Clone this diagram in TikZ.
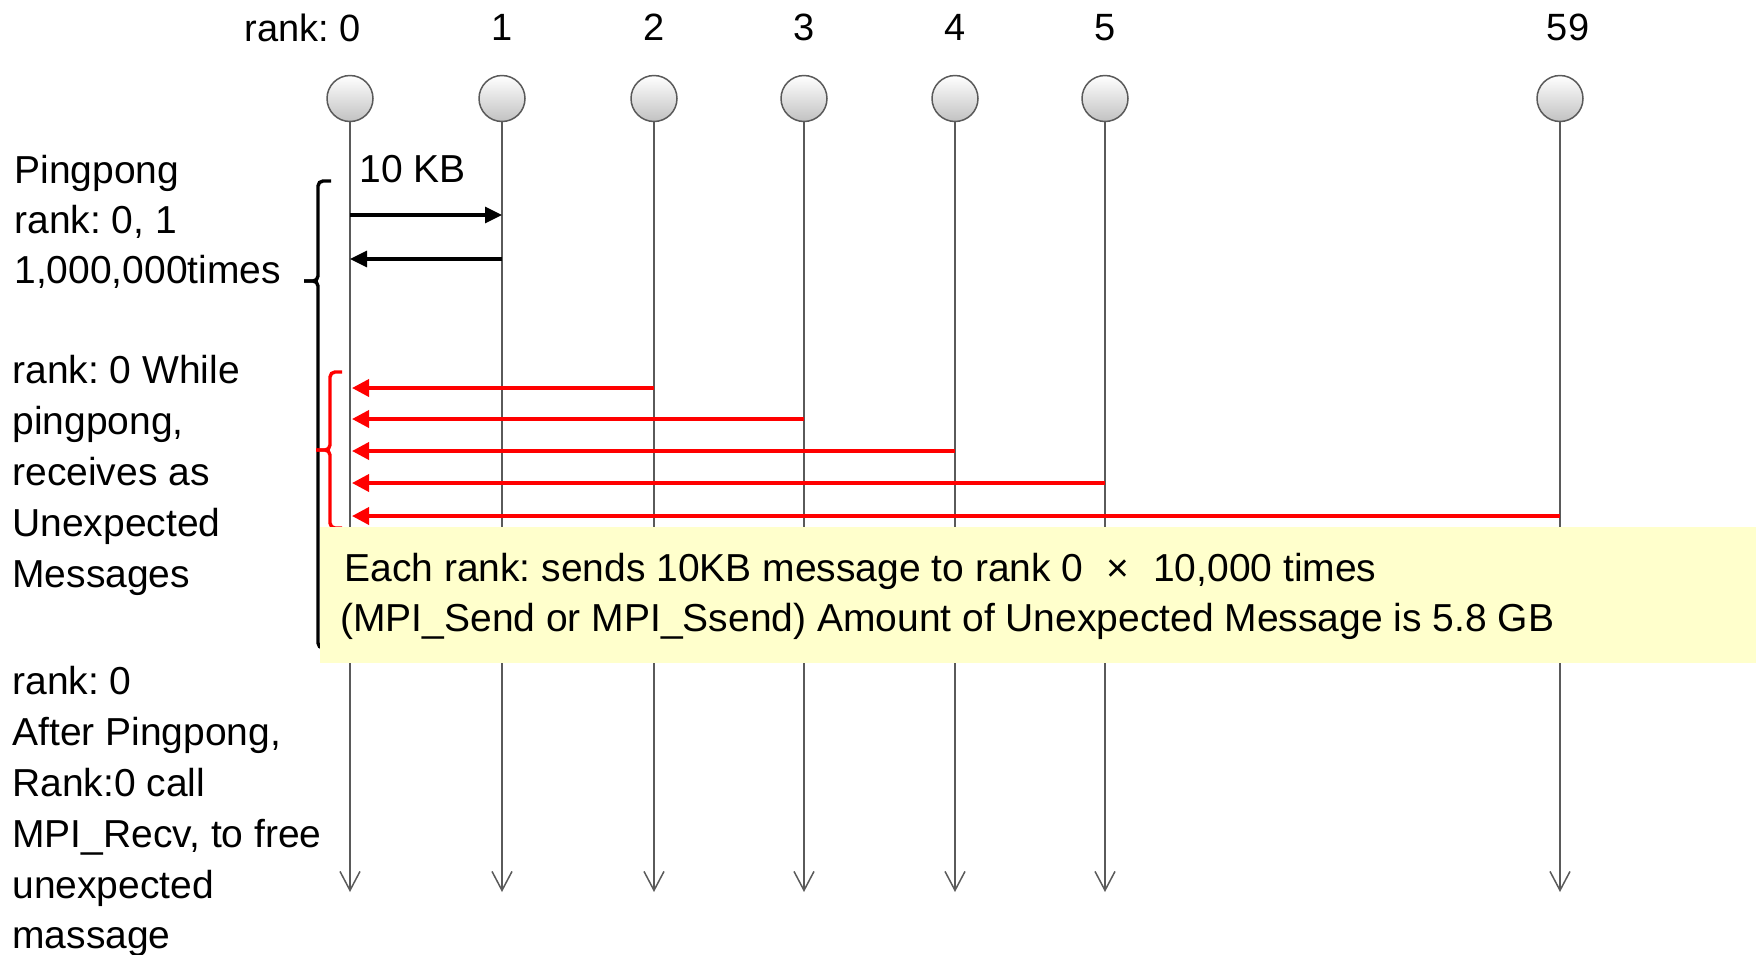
\documentclass[tikz,border=0pt]{standalone}
\usepackage{fontspec}
\setmainfont{Liberation Sans}
\usetikzlibrary{arrows.meta}
\definecolor{boxyellow}{HTML}{FFFFCC}
\definecolor{lifegray}{HTML}{5A5A5A}
\frenchspacing
\begin{document}
\begin{tikzpicture}[x=0.5pt,y=-0.5pt,
  proc/.style={circle, draw=lifegray, line width=0.75pt, minimum size=23pt,
    inner sep=0pt, top color=white, bottom color=black!24},
  lifeline/.style={draw=lifegray, line width=0.75pt,
    -{Straight Barb[length=9.5pt,width=10pt]}},
  ranklbl/.style={font=\fontsize{19}{22}\selectfont, anchor=base, inner sep=0pt},
  txt/.style={font=\fontsize{19.5}{25}\selectfont, anchor=base west, inner sep=0pt},
  msg/.style={line width=1.6pt, -{Triangle[length=8.5pt,width=8pt]}},
  umsg/.style={line width=1.8pt, draw=red, -{Triangle[length=8.5pt,width=8.5pt]}},
  bracket/.style={line width=1.7pt, rounded corners=2.5pt},
]
\useasboundingbox (0,0) rectangle (1756,954);

% processes
\foreach \r/\x in {0/350,1/502,2/654,3/804,4/955,5/1105,59/1560}{
  \node[proc] (r\r) at (\x,98.5) {};
  \coordinate (e\r) at (\x,892);
  \draw[lifeline] (r\r.south) -- (e\r);
}

% rank labels
\node[ranklbl, anchor=base east] (lr0) at (361,41.5) {rank: 0};
\node[ranklbl] (lr1) at (502,40) {1};
\node[ranklbl] (lr2) at (654,40) {2};
\node[ranklbl] (lr3) at (804,40) {3};
\node[ranklbl] (lr4) at (955,40) {4};
\node[ranklbl] (lr5) at (1105,40) {5};
\node[ranklbl] (lr59) at (1568,40) {59};

% pingpong between rank 0 and rank 1
\node[ranklbl, font=\fontsize{19.5}{22}\selectfont, anchor=base west] (kb) at (359,182) {10 KB};
\coordinate (a0) at (350,215);
\coordinate (a1) at (502,215);
\coordinate (b1) at (502,259);
\coordinate (b0) at (350,259);
\draw[msg] (a0) -- (a1);
\draw[msg] (b1) -- (b0);

% unexpected messages to rank 0
\foreach \r/\x/\y in {2/654/388,3/804/419,4/955/451,5/1105/483,59/1560/516}{
  \coordinate (s\r) at (\x,\y);
  \coordinate (t\r) at (352,\y);
  \draw[umsg] (s\r) -- (t\r);
}

% braces
\draw[bracket] (331,181) -| (318,281) -- (304,281);
\draw[bracket] (304,281) -- (318,281) |- (331,648);
\draw[bracket, red] (342,372) -| (330,450) -- (316,450);
\draw[bracket, red] (316,450) -- (330,450) |- (342,528);

% note box
\node[fill=boxyellow, inner sep=0pt, anchor=north west,
  minimum width=718pt, minimum height=68pt] (box) at (320,527) {};
\node[txt] (bt1) at (344,581) {Each rank: sends 10KB message to rank 0\hspace{0.6em}×\hspace{0.6em}10,000 times};
\node[txt] (bt2) at (340,631) {(MPI\_Send or MPI\_Ssend) Amount of Unexpected Message is 5.8 GB};

% left-hand notes
\node[txt] (n1a) at (14,183) {Pingpong};
\node[txt] (n1b) at (14,233) {rank: 0, 1};
\node[txt] (n1c) at (14,283) {1,000,000times};

\node[txt] (n2a) at (12,383) {rank: 0 While};
\node[txt] (n2b) at (12,434) {pingpong,};
\node[txt] (n2c) at (12,485) {receives as};
\node[txt] (n2d) at (12,536) {Unexpected};
\node[txt] (n2e) at (12,587) {Messages};

\node[txt] (n3a) at (12,694) {rank: 0};
\node[txt] (n3b) at (12,745) {After Pingpong,};
\node[txt] (n3c) at (12,796) {Rank:0 call};
\node[txt] (n3d) at (12,847) {MPI\_Recv, to free};
\node[txt] (n3e) at (12,898) {unexpected};
\node[txt] (n3f) at (12,948) {massage};
\end{tikzpicture}
\end{document}
